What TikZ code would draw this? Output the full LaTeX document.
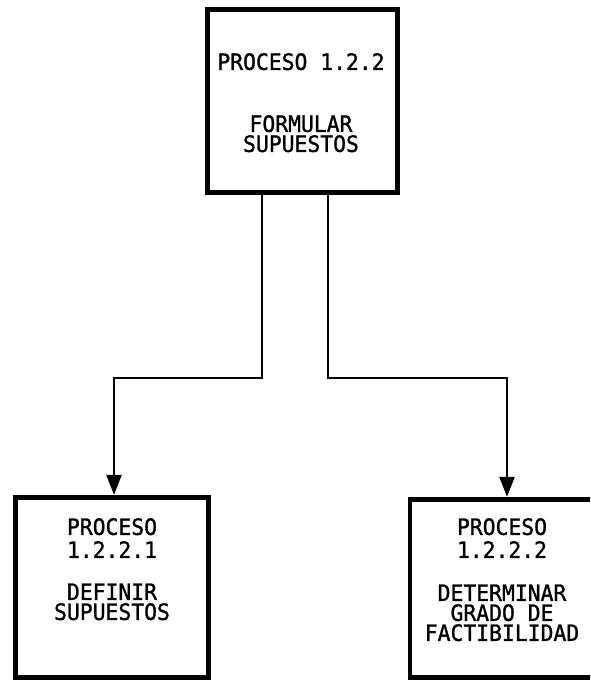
\documentclass[tikz,border=0pt]{standalone}
\usepackage{fontspec}
\newfontfamily\plotfont[FakeStretch=0.95,FakeBold=1.2]{DejaVu Sans Mono}
\usetikzlibrary{arrows.meta}
\begin{document}
\begin{tikzpicture}[x=1pt,y=-1pt,
  procbox/.style={draw=black,line width=4.8pt,fill=none,inner sep=0pt,rectangle},
  proctext/.style={align=center,inner sep=0pt,anchor=north,
    font=\plotfont\fontsize{22.5}{20}\selectfont},
  conn/.style={draw=black,line width=2.3pt,line cap=butt,line join=miter},
  tip/.style={-{Triangle[width=15pt,length=20pt]}}]
\clip (0,0) rectangle (590,682);
\fill[white] (0,0) rectangle (590,682);
% boxes
\node[procbox,minimum width=190.5pt,minimum height=183.5pt] (top) at (302.5,101) {};
\node[procbox,minimum width=193.5pt,minimum height=180.5pt] (bl) at (112,587.5) {};
\node[procbox,minimum width=190pt,minimum height=178.5pt] (br) at (505,588.5) {};
% texts
\node[proctext] (ttop) at (301,53) {PROCESO 1.2.2\\[42pt]FORMULAR\\SUPUESTOS};
\node[proctext] (tbl) at (112,518) {PROCESO\\[3pt]1.2.2.1\\[22pt]DEFINIR\\SUPUESTOS};
\node[proctext] (tbr) at (502,518) {PROCESO\\[3pt]1.2.2.2\\[23pt]DETERMINAR\\GRADO DE\\FACTIBILIDAD};
% connectors
\coordinate (a1) at (262,0);
\coordinate (a2) at (328,0);
\coordinate (j1) at (114,378);
\coordinate (j2) at (507,378);
\draw[conn,tip] (top.south -| a1) |- (j1) -- (j1 |- bl.north);
\draw[conn,tip] (top.south -| a2) |- (j2) -- (j2 |- br.north);
\end{tikzpicture}
\end{document}
